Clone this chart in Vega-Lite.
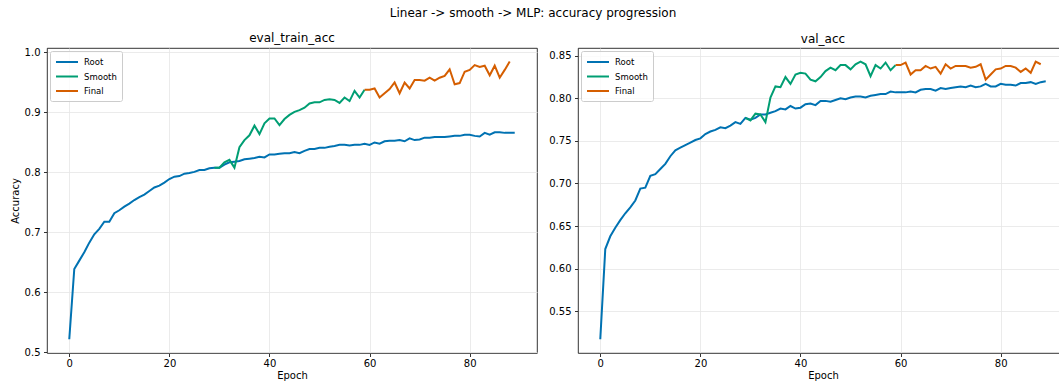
{
  "$schema": "https://vega.github.io/schema/vega-lite/v6.json",
  "padding": {"left": 9, "top": 7, "right": 0, "bottom": 0},
  "background": "white",
  "title": {"text": "Linear -> smooth -> MLP: accuracy progression", "anchor": "middle", "fontSize": 12, "fontWeight": "normal", "font": "DejaVu Sans", "color": "black", "offset": 12, "dx": -6},
  "datasets": {
    "train": [
      {"s":"Root","e":0,"v":0.522},{"s":"Root","e":1,"v":0.639},{"s":"Root","e":2,"v":0.653},{"s":"Root","e":3,"v":0.667},{"s":"Root","e":4,"v":0.683},{"s":"Root","e":5,"v":0.697},{"s":"Root","e":6,"v":0.706},{"s":"Root","e":7,"v":0.718},{"s":"Root","e":8,"v":0.718},{"s":"Root","e":9,"v":0.732},
      {"s":"Root","e":10,"v":0.737},{"s":"Root","e":11,"v":0.743},{"s":"Root","e":12,"v":0.748},{"s":"Root","e":13,"v":0.754},{"s":"Root","e":14,"v":0.759},{"s":"Root","e":15,"v":0.763},{"s":"Root","e":16,"v":0.769},{"s":"Root","e":17,"v":0.775},{"s":"Root","e":18,"v":0.778},{"s":"Root","e":19,"v":0.783},
      {"s":"Root","e":20,"v":0.789},{"s":"Root","e":21,"v":0.793},{"s":"Root","e":22,"v":0.794},{"s":"Root","e":23,"v":0.798},{"s":"Root","e":24,"v":0.799},{"s":"Root","e":25,"v":0.801},{"s":"Root","e":26,"v":0.804},{"s":"Root","e":27,"v":0.804},{"s":"Root","e":28,"v":0.807},{"s":"Root","e":29,"v":0.808},
      {"s":"Root","e":30,"v":0.808},{"s":"Root","e":31,"v":0.813},{"s":"Root","e":32,"v":0.817},{"s":"Root","e":33,"v":0.818},{"s":"Root","e":34,"v":0.819},{"s":"Root","e":35,"v":0.822},{"s":"Root","e":36,"v":0.823},{"s":"Root","e":37,"v":0.824},{"s":"Root","e":38,"v":0.826},{"s":"Root","e":39,"v":0.825},
      {"s":"Root","e":40,"v":0.830},{"s":"Root","e":41,"v":0.830},{"s":"Root","e":42,"v":0.831},{"s":"Root","e":43,"v":0.832},{"s":"Root","e":44,"v":0.832},{"s":"Root","e":45,"v":0.834},{"s":"Root","e":46,"v":0.832},{"s":"Root","e":47,"v":0.836},{"s":"Root","e":48,"v":0.839},{"s":"Root","e":49,"v":0.839},
      {"s":"Root","e":50,"v":0.841},{"s":"Root","e":51,"v":0.841},{"s":"Root","e":52,"v":0.843},{"s":"Root","e":53,"v":0.844},{"s":"Root","e":54,"v":0.846},{"s":"Root","e":55,"v":0.846},{"s":"Root","e":56,"v":0.845},{"s":"Root","e":57,"v":0.846},{"s":"Root","e":58,"v":0.846},{"s":"Root","e":59,"v":0.848},
      {"s":"Root","e":60,"v":0.846},{"s":"Root","e":61,"v":0.850},{"s":"Root","e":62,"v":0.848},{"s":"Root","e":63,"v":0.852},{"s":"Root","e":64,"v":0.853},{"s":"Root","e":65,"v":0.853},{"s":"Root","e":66,"v":0.854},{"s":"Root","e":67,"v":0.852},{"s":"Root","e":68,"v":0.857},{"s":"Root","e":69,"v":0.854},
      {"s":"Root","e":70,"v":0.855},{"s":"Root","e":71,"v":0.858},{"s":"Root","e":72,"v":0.858},{"s":"Root","e":73,"v":0.859},{"s":"Root","e":74,"v":0.859},{"s":"Root","e":75,"v":0.859},{"s":"Root","e":76,"v":0.860},{"s":"Root","e":77,"v":0.861},{"s":"Root","e":78,"v":0.861},{"s":"Root","e":79,"v":0.863},
      {"s":"Root","e":80,"v":0.863},{"s":"Root","e":81,"v":0.861},{"s":"Root","e":82,"v":0.860},{"s":"Root","e":83,"v":0.866},{"s":"Root","e":84,"v":0.863},{"s":"Root","e":85,"v":0.867},{"s":"Root","e":86,"v":0.867},{"s":"Root","e":87,"v":0.866},{"s":"Root","e":88,"v":0.866},{"s":"Root","e":89,"v":0.866},
      {"s":"Smooth","e":29,"v":0.808},{"s":"Smooth","e":30,"v":0.808},{"s":"Smooth","e":31,"v":0.817},{"s":"Smooth","e":32,"v":0.821},{"s":"Smooth","e":33,"v":0.808},{"s":"Smooth","e":34,"v":0.842},{"s":"Smooth","e":35,"v":0.854},{"s":"Smooth","e":36,"v":0.862},{"s":"Smooth","e":37,"v":0.878},{"s":"Smooth","e":38,"v":0.864},
      {"s":"Smooth","e":39,"v":0.882},{"s":"Smooth","e":40,"v":0.890},{"s":"Smooth","e":41,"v":0.890},{"s":"Smooth","e":42,"v":0.879},{"s":"Smooth","e":43,"v":0.889},{"s":"Smooth","e":44,"v":0.896},{"s":"Smooth","e":45,"v":0.901},{"s":"Smooth","e":46,"v":0.904},{"s":"Smooth","e":47,"v":0.908},{"s":"Smooth","e":48,"v":0.915},
      {"s":"Smooth","e":49,"v":0.917},{"s":"Smooth","e":50,"v":0.917},{"s":"Smooth","e":51,"v":0.921},{"s":"Smooth","e":52,"v":0.922},{"s":"Smooth","e":53,"v":0.921},{"s":"Smooth","e":54,"v":0.916},{"s":"Smooth","e":55,"v":0.925},{"s":"Smooth","e":56,"v":0.919},{"s":"Smooth","e":57,"v":0.936},{"s":"Smooth","e":58,"v":0.925},{"s":"Smooth","e":59,"v":0.938},
      {"s":"Final","e":59,"v":0.938},{"s":"Final","e":60,"v":0.938},{"s":"Final","e":61,"v":0.940},{"s":"Final","e":62,"v":0.925},{"s":"Final","e":63,"v":0.932},{"s":"Final","e":64,"v":0.939},{"s":"Final","e":65,"v":0.950},{"s":"Final","e":66,"v":0.932},{"s":"Final","e":67,"v":0.950},{"s":"Final","e":68,"v":0.940},
      {"s":"Final","e":69,"v":0.954},{"s":"Final","e":70,"v":0.954},{"s":"Final","e":71,"v":0.953},{"s":"Final","e":72,"v":0.958},{"s":"Final","e":73,"v":0.953},{"s":"Final","e":74,"v":0.958},{"s":"Final","e":75,"v":0.961},{"s":"Final","e":76,"v":0.972},{"s":"Final","e":77,"v":0.947},{"s":"Final","e":78,"v":0.949},
      {"s":"Final","e":79,"v":0.968},{"s":"Final","e":80,"v":0.971},{"s":"Final","e":81,"v":0.979},{"s":"Final","e":82,"v":0.976},{"s":"Final","e":83,"v":0.978},{"s":"Final","e":84,"v":0.962},{"s":"Final","e":85,"v":0.978},{"s":"Final","e":86,"v":0.958},{"s":"Final","e":87,"v":0.971},{"s":"Final","e":88,"v":0.985}
    ],
    "val": [
      {"s":"Root","e":0,"v":0.517},{"s":"Root","e":1,"v":0.623},{"s":"Root","e":2,"v":0.638},{"s":"Root","e":3,"v":0.648},{"s":"Root","e":4,"v":0.657},{"s":"Root","e":5,"v":0.665},{"s":"Root","e":6,"v":0.672},{"s":"Root","e":7,"v":0.680},{"s":"Root","e":8,"v":0.694},{"s":"Root","e":9,"v":0.695},
      {"s":"Root","e":10,"v":0.709},{"s":"Root","e":11,"v":0.711},{"s":"Root","e":12,"v":0.717},{"s":"Root","e":13,"v":0.723},{"s":"Root","e":14,"v":0.732},{"s":"Root","e":15,"v":0.739},{"s":"Root","e":16,"v":0.742},{"s":"Root","e":17,"v":0.745},{"s":"Root","e":18,"v":0.748},{"s":"Root","e":19,"v":0.751},
      {"s":"Root","e":20,"v":0.753},{"s":"Root","e":21,"v":0.758},{"s":"Root","e":22,"v":0.761},{"s":"Root","e":23,"v":0.763},{"s":"Root","e":24,"v":0.766},{"s":"Root","e":25,"v":0.765},{"s":"Root","e":26,"v":0.768},{"s":"Root","e":27,"v":0.772},{"s":"Root","e":28,"v":0.770},{"s":"Root","e":29,"v":0.777},
      {"s":"Root","e":30,"v":0.775},{"s":"Root","e":31,"v":0.777},{"s":"Root","e":32,"v":0.781},{"s":"Root","e":33,"v":0.781},{"s":"Root","e":34,"v":0.783},{"s":"Root","e":35,"v":0.785},{"s":"Root","e":36,"v":0.788},{"s":"Root","e":37,"v":0.787},{"s":"Root","e":38,"v":0.791},{"s":"Root","e":39,"v":0.788},
      {"s":"Root","e":40,"v":0.789},{"s":"Root","e":41,"v":0.793},{"s":"Root","e":42,"v":0.794},{"s":"Root","e":43,"v":0.792},{"s":"Root","e":44,"v":0.797},{"s":"Root","e":45,"v":0.797},{"s":"Root","e":46,"v":0.796},{"s":"Root","e":47,"v":0.798},{"s":"Root","e":48,"v":0.800},{"s":"Root","e":49,"v":0.799},
      {"s":"Root","e":50,"v":0.801},{"s":"Root","e":51,"v":0.802},{"s":"Root","e":52,"v":0.802},{"s":"Root","e":53,"v":0.801},{"s":"Root","e":54,"v":0.803},{"s":"Root","e":55,"v":0.804},{"s":"Root","e":56,"v":0.805},{"s":"Root","e":57,"v":0.805},{"s":"Root","e":58,"v":0.808},{"s":"Root","e":59,"v":0.807},
      {"s":"Root","e":60,"v":0.807},{"s":"Root","e":61,"v":0.807},{"s":"Root","e":62,"v":0.808},{"s":"Root","e":63,"v":0.807},{"s":"Root","e":64,"v":0.810},{"s":"Root","e":65,"v":0.811},{"s":"Root","e":66,"v":0.811},{"s":"Root","e":67,"v":0.809},{"s":"Root","e":68,"v":0.812},{"s":"Root","e":69,"v":0.811},
      {"s":"Root","e":70,"v":0.812},{"s":"Root","e":71,"v":0.813},{"s":"Root","e":72,"v":0.814},{"s":"Root","e":73,"v":0.813},{"s":"Root","e":74,"v":0.815},{"s":"Root","e":75,"v":0.813},{"s":"Root","e":76,"v":0.814},{"s":"Root","e":77,"v":0.817},{"s":"Root","e":78,"v":0.814},{"s":"Root","e":79,"v":0.814},
      {"s":"Root","e":80,"v":0.817},{"s":"Root","e":81,"v":0.816},{"s":"Root","e":82,"v":0.816},{"s":"Root","e":83,"v":0.815},{"s":"Root","e":84,"v":0.818},{"s":"Root","e":85,"v":0.818},{"s":"Root","e":86,"v":0.819},{"s":"Root","e":87,"v":0.817},{"s":"Root","e":88,"v":0.819},{"s":"Root","e":89,"v":0.820},
      {"s":"Smooth","e":29,"v":0.777},{"s":"Smooth","e":30,"v":0.774},{"s":"Smooth","e":31,"v":0.782},{"s":"Smooth","e":32,"v":0.781},{"s":"Smooth","e":33,"v":0.772},{"s":"Smooth","e":34,"v":0.801},{"s":"Smooth","e":35,"v":0.814},{"s":"Smooth","e":36,"v":0.813},{"s":"Smooth","e":37,"v":0.825},{"s":"Smooth","e":38,"v":0.817},
      {"s":"Smooth","e":39,"v":0.828},{"s":"Smooth","e":40,"v":0.830},{"s":"Smooth","e":41,"v":0.829},{"s":"Smooth","e":42,"v":0.822},{"s":"Smooth","e":43,"v":0.820},{"s":"Smooth","e":44,"v":0.825},{"s":"Smooth","e":45,"v":0.832},{"s":"Smooth","e":46,"v":0.836},{"s":"Smooth","e":47,"v":0.833},{"s":"Smooth","e":48,"v":0.839},
      {"s":"Smooth","e":49,"v":0.839},{"s":"Smooth","e":50,"v":0.834},{"s":"Smooth","e":51,"v":0.840},{"s":"Smooth","e":52,"v":0.843},{"s":"Smooth","e":53,"v":0.840},{"s":"Smooth","e":54,"v":0.826},{"s":"Smooth","e":55,"v":0.839},{"s":"Smooth","e":56,"v":0.835},{"s":"Smooth","e":57,"v":0.842},{"s":"Smooth","e":58,"v":0.833},{"s":"Smooth","e":59,"v":0.839},
      {"s":"Final","e":59,"v":0.839},{"s":"Final","e":60,"v":0.839},{"s":"Final","e":61,"v":0.842},{"s":"Final","e":62,"v":0.828},{"s":"Final","e":63,"v":0.833},{"s":"Final","e":64,"v":0.833},{"s":"Final","e":65,"v":0.838},{"s":"Final","e":66,"v":0.835},{"s":"Final","e":67,"v":0.837},{"s":"Final","e":68,"v":0.829},
      {"s":"Final","e":69,"v":0.840},{"s":"Final","e":70,"v":0.835},{"s":"Final","e":71,"v":0.838},{"s":"Final","e":72,"v":0.838},{"s":"Final","e":73,"v":0.838},{"s":"Final","e":74,"v":0.836},{"s":"Final","e":75,"v":0.837},{"s":"Final","e":76,"v":0.840},{"s":"Final","e":77,"v":0.822},{"s":"Final","e":78,"v":0.828},
      {"s":"Final","e":79,"v":0.834},{"s":"Final","e":80,"v":0.835},{"s":"Final","e":81,"v":0.838},{"s":"Final","e":82,"v":0.838},{"s":"Final","e":83,"v":0.836},{"s":"Final","e":84,"v":0.831},{"s":"Final","e":85,"v":0.835},{"s":"Final","e":86,"v":0.830},{"s":"Final","e":87,"v":0.843},{"s":"Final","e":88,"v":0.840}
    ]
  },
  "hconcat": [
    {
      "data": {"name": "train"},
      "width": 490,
      "height": 305,
      "title": {"text": "eval_train_acc", "fontSize": 12, "fontWeight": "normal", "font": "DejaVu Sans", "color": "black", "offset": 2},
      "mark": {"type": "line", "strokeWidth": 2, "clip": true},
      "encoding": {
        "x": {"field": "e", "type": "quantitative", "scale": {"domain": [-4.45, 93.45], "nice": false, "zero": false}, "axis": {"values": [0, 20, 40, 60, 80], "title": "Epoch"}},
        "y": {"field": "v", "type": "quantitative", "scale": {"domain": [0.499, 1.0075], "nice": false, "zero": false}, "axis": {"values": [0.5, 0.6, 0.7, 0.8, 0.9, 1.0], "format": ".1f", "title": "Accuracy"}},
        "color": {"field": "s", "type": "nominal", "scale": {"domain": ["Root", "Smooth", "Final"], "range": ["#0072B2", "#009E73", "#D55E00"]}, "legend": {"title": null}}
      }
    },
    {
      "data": {"name": "val"},
      "width": 490,
      "height": 305,
      "title": {"text": "val_acc", "fontSize": 12, "fontWeight": "normal", "font": "DejaVu Sans", "color": "black", "offset": 2},
      "mark": {"type": "line", "strokeWidth": 2, "clip": true},
      "encoding": {
        "x": {"field": "e", "type": "quantitative", "scale": {"domain": [-4.45, 93.45], "nice": false, "zero": false}, "axis": {"values": [0, 20, 40, 60, 80], "title": "Epoch"}},
        "y": {"field": "v", "type": "quantitative", "scale": {"domain": [0.5009, 0.8591], "nice": false, "zero": false}, "axis": {"values": [0.55, 0.6, 0.65, 0.7, 0.75, 0.8, 0.85], "format": ".2f", "title": null}},
        "color": {"field": "s", "type": "nominal", "scale": {"domain": ["Root", "Smooth", "Final"], "range": ["#0072B2", "#009E73", "#D55E00"]}, "legend": {"title": null}}
      }
    }
  ],
  "spacing": 10,
  "resolve": {"scale": {"y": "independent", "x": "independent"}, "axis": {"y": "independent"}, "legend": {"color": "independent"}},
  "config": {
    "font": "DejaVu Sans",
    "view": {"stroke": "black", "strokeWidth": 0.8},
    "axis": {"domain": false, "grid": true, "gridColor": "#e6e6e6", "gridWidth": 0.8, "tickColor": "black", "tickSize": 3.5, "tickWidth": 0.8, "labelPadding": 3.5, "labelFontSize": 10, "labelColor": "black", "labelFont": "DejaVu Sans", "titleFontSize": 10, "titleFontWeight": "normal", "titleColor": "black", "titleFont": "DejaVu Sans", "titlePadding": 4, "labelFlush": false},
    "axisX": {"labelPadding": 2, "titlePadding": 2},
    "legend": {
      "orient": "top-left", "offset": 3,
      "symbolType": "M-1,0H3.4", "symbolSize": 100, "symbolStrokeWidth": 2,
      "labelFontSize": 8.5, "labelFont": "DejaVu Sans", "labelColor": "black", "labelOffset": 17,
      "strokeColor": "#cccccc", "fillColor": "rgba(255,255,255,0.8)", "padding": 5, "cornerRadius": 2, "rowPadding": 3.5
    }
  }
}
